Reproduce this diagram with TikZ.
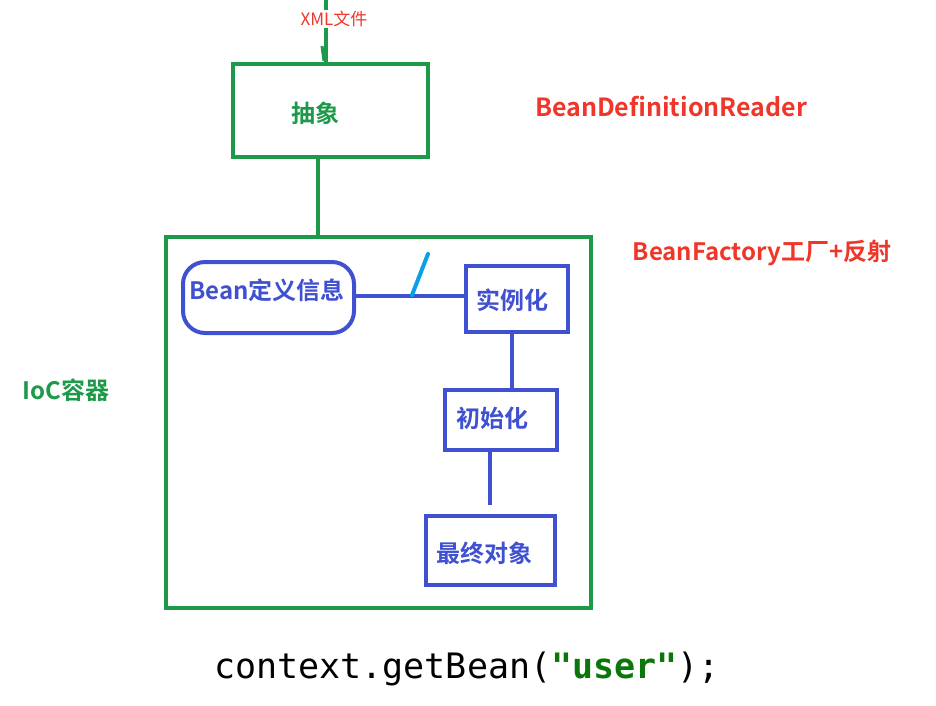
\documentclass[tikz,border=0pt]{standalone}
\usepackage{fontspec}
\newfontfamily\cjk{Noto Sans CJK SC}
\newfontfamily\cjkb{Noto Sans CJK SC Bold}
\newfontfamily\codefont{DejaVu Sans Mono}
\definecolor{gr}{HTML}{1C9A4A}
\definecolor{bl}{HTML}{3F50D0}
\definecolor{rd}{HTML}{F0362A}
\definecolor{lb}{HTML}{0AA0E6}
\definecolor{cg}{HTML}{0B760B}
\tikzset{
  gbox/.style={draw=gr,line width=4pt,inner sep=0pt},
  bbox/.style={draw=bl,line width=4pt,inner sep=0pt},
  gline/.style={draw=gr,line width=4pt},
  bline/.style={draw=bl,line width=4pt},
  lbl/.style={font=\cjkb\fontsize{24}{26}\selectfont},
  side/.style={font=\cjkb\fontsize{24}{26}\selectfont},
}
\begin{document}
\begin{tikzpicture}[x=1pt,y=-1pt]
\useasboundingbox (0,0) rectangle (936,705);
% top
\node[gbox,minimum width=195pt,minimum height=93pt] (abs) at (330.5,110.5) {};
\node[lbl,text=gr] (abst) at (315,113) {抽象};
\coordinate (top) at (326,0);
\draw[gline] (top) -- (top|-abs.north);
\draw[gline,line width=3pt] (322,46) coordinate (t1) -- (324,61) coordinate (t2);
\node[font=\cjk\fontsize{17}{18}\selectfont,text=rd,fill=white,inner sep=1pt] (xml) at (334,19) {XML文件};
\node[side,text=rd,font=\cjkb\fontsize{25}{26}\selectfont] (bdr) at (671,107) {BeanDefinitionReader};
% container
\node[gbox,minimum width=425pt,minimum height=371pt] (ioc) at (378.5,422.5) {};
\draw[gline] (318,157) coordinate (a1) -- (a1|-ioc.north);
\node[side,text=rd] (bf) at (762,253) {BeanFactory工厂+反射};
\node[side,text=gr] (iocl) at (66,390) {IoC容器};
% inner
\node[bbox,rounded corners=22pt,minimum width=171pt,minimum height=71pt] (def) at (268.5,297.5) {};
\node[lbl,text=bl] (deft) at (267,290) {Bean定义信息};
\node[bbox,minimum width=102pt,minimum height=66pt] (inst) at (517,299) {};
\node[lbl,text=bl] (instt) at (512,300) {实例化};
\node[bbox,minimum width=112pt,minimum height=60pt] (init) at (501,420) {};
\node[lbl,text=bl] (initt) at (492,418) {初始化};
\node[bbox,minimum width=129pt,minimum height=69pt] (fin) at (490.5,550.5) {};
\node[lbl,text=bl] (fint) at (484,553) {最终对象};
\draw[bline] (def.east|-0,296) -- (inst.west|-0,296);
\draw[draw=lb,line width=4pt,line cap=round] (412,295) coordinate (s1) -- (428,254) coordinate (s2);
\draw[bline] (512,0|-inst.south) coordinate (c1) -- (c1|-init.north);
\coordinate (e1) at (490,505);
\draw[bline] (e1|-init.south) -- (e1);
% code
\node[font=\codefont\fontsize{35}{38}\selectfont,anchor=base west,inner sep=0pt] (code) at (214,678) {context.getBean(\textcolor{cg}{\bfseries"user"});};
\end{tikzpicture}
\end{document}
